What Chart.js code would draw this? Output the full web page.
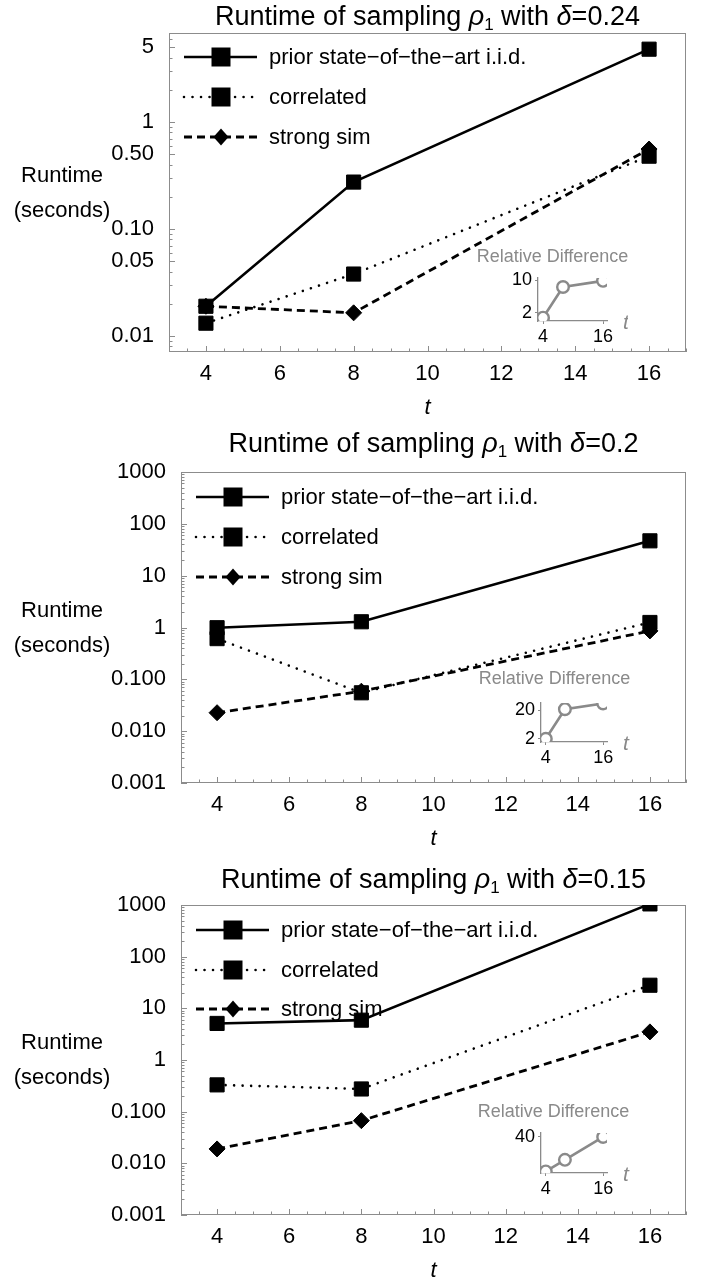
<!DOCTYPE html>
<html lang="en">
<head>
<meta charset="UTF-8">
<title>Runtime of sampling</title>
<script src="https://cdn.jsdelivr.net/npm/chart.js"></script>
<style>
  body { margin: 0; background: #fff; }
  #page { position: relative; width: 712px; height: 1284px; overflow: hidden; background: #fff; }
  canvas { position: absolute; }
</style>
</head>
<body>
<div id="page">
  <canvas id="main1"></canvas>
  <canvas id="main2"></canvas>
  <canvas id="main3"></canvas>
  <canvas id="inset1"></canvas>
  <canvas id="inset2"></canvas>
  <canvas id="inset3"></canvas>
</div>
<script>
// ---- data ----
const tValues = [4, 8, 16];
const seriesNames = ['prior state\u2212of\u2212the\u2212art i.i.d.', 'correlated', 'strong sim'];

// delta = 0.24
const prior1 = [0.019, 0.275, 4.8];
const corr1 = [0.0132, 0.038, 0.48];
const strong1 = [0.019, 0.0165, 0.56];
const relDiff1 = [0.8, 8.3, 9.8];

// delta = 0.2
const prior2 = [0.99, 1.29, 47];
const corr2 = [0.61, 0.055, 1.25];
const strong2 = [0.0227, 0.059, 0.86];
const relDiff2 = [2.0, 20.6, 24.2];

// delta = 0.15
const prior3 = [5.1, 5.9, 1050];
const corr3 = [0.33, 0.275, 28];
const strong3 = [0.019, 0.067, 3.5];
const relDiff3 = [1.8, 14.6, 40];

// tick labels
const xTicks = [4, 6, 8, 10, 12, 14, 16];
const yTicks1 = [0.01, 0.05, 0.1, 0.5, 1, 5];
const yLabels1 = ['0.01', '0.05', '0.10', '0.50', '1', '5'];
const yTicksWide = [0.001, 0.01, 0.1, 1, 10, 100, 1000];
const yLabelsWide = ['0.001', '0.010', '0.100', '1', '10', '100', '1000'];
const insetXTicks = [4, 16];

// ---- layout / style ----
const W = 712;
const FONT = "'Liberation Sans', Arial, Helvetica, sans-serif";
const frameColor = '#8c8c8c';
const insetGray = '#8a8a8a';
Chart.defaults.font.family = FONT;

const seriesStyles = [
  { dash: [], cap: 'butt', width: 2.6, point: 'rect', radius: 10, legendSize: 19 },
  { dash: [0.01, 8.5], cap: 'round', width: 2.6, point: 'rect', radius: 10, legendSize: 19 },
  { dash: [8, 5], cap: 'butt', width: 2.8, point: 'rectRot', radius: 8, legendSize: 15 }
];

const panels = [
  {
    id: 'main1', delta: '0.24', canvasTop: 0, canvasH: 422,
    box: { l: 169, t: 33, r: 686, b: 352 }, titleBase: 25,
    yMin: 0.0071, yMax: 6.8, yMajor: yTicks1, yLabels: yLabels1,
    series: [prior1, corr1, strong1], legendRows: [24, 64, 104],
    inset: { id: 'inset1', axis: { l: 538, t: 278, r: 607, b: 321 }, yMax: 10.5, yTicks: [2, 10], data: relDiff1, textDx: 14.5, textDy: -21 }
  },
  {
    id: 'main2', delta: '0.2', canvasTop: 430, canvasH: 423,
    box: { l: 181, t: 472, r: 686, b: 783 }, titleBase: 452,
    yMin: 0.001, yMax: 1000, yMajor: yTicksWide, yLabels: yLabelsWide,
    series: [prior2, corr2, strong2], legendRows: [25, 65, 105],
    inset: { id: 'inset2', axis: { l: 541, t: 703, r: 607, b: 742 }, yMax: 24.5, yTicks: [2, 20], data: relDiff2, textDx: 13.5, textDy: -24 }
  },
  {
    id: 'main3', delta: '0.15', canvasTop: 860, canvasH: 425,
    box: { l: 181, t: 905, r: 686, b: 1215 }, titleBase: 888,
    yMin: 0.001, yMax: 1000, yMajor: yTicksWide, yLabels: yLabelsWide,
    series: [prior3, corr3, strong3], legendRows: [25, 65, 104],
    inset: { id: 'inset3', axis: { l: 541, t: 1133, r: 607, b: 1173 }, yMax: 44.4, yTicks: [40], data: relDiff3, textDx: 12.5, textDy: -21 }
  }
];

// minor tick helpers
function logTicks(min, max) {
  const out = [];
  for (let e = -4; e <= 4; e++) {
    for (let k = 1; k <= 9; k++) {
      const v = +(k * Math.pow(10, e)).toPrecision(6);
      if (v >= min * 0.999 && v <= max * 1.001) out.push(v);
    }
  }
  return out;
}
function majorIndex(v, list) {
  return list.findIndex(m => Math.abs(m - v) / m < 1e-6);
}
const xAllTicks = [];
for (let v = 3; v <= 17; v += 0.5) xAllTicks.push(v);

function setDash(ctx, st) {
  ctx.setLineDash(st.dash);
  ctx.lineCap = st.cap;
  ctx.lineWidth = st.width;
}

function drawMarker(ctx, st, x, y) {
  const s = st.legendSize;
  ctx.fillStyle = '#000';
  ctx.beginPath();
  if (st.point === 'rect') {
    ctx.rect(x - s / 2, y - s / 2, s, s);
  } else {
    ctx.moveTo(x, y - s / 2 - 1);
    ctx.lineTo(x + s / 2, y);
    ctx.lineTo(x, y + s / 2 + 1);
    ctx.lineTo(x - s / 2, y);
    ctx.closePath();
  }
  ctx.fill();
}

function drawTitle(ctx, cx, base, delta) {
  const big = '27px ' + FONT, ital = 'italic 27px ' + FONT, small = '17px ' + FONT;
  const parts = [
    { t: 'Runtime of sampling ', f: big, dy: 0 },
    { t: '\u03c1', f: ital, dy: 0 },
    { t: '1', f: small, dy: 5 },
    { t: ' with ', f: big, dy: 0 },
    { t: '\u03b4', f: ital, dy: 0 },
    { t: '=' + delta, f: big, dy: 0 }
  ];
  let total = 0;
  parts.forEach(p => { ctx.font = p.f; p.w = ctx.measureText(p.t).width; total += p.w; });
  let x = cx - total / 2;
  ctx.fillStyle = '#000';
  ctx.textAlign = 'left';
  ctx.textBaseline = 'alphabetic';
  parts.forEach(p => { ctx.font = p.f; ctx.fillText(p.t, x, base + p.dy); x += p.w; });
}

function panelPlugin(p) {
  return {
    id: 'panelDecor' + p.id,
    beforeDatasetsDraw(chart) {
      const { ctx, chartArea: a, scales } = chart;
      ctx.save();
      ctx.strokeStyle = frameColor;
      ctx.lineWidth = 1;
      ctx.strokeRect(a.left + 0.5, a.top + 0.5, a.right - a.left - 1, a.bottom - a.top - 1);
      ctx.beginPath();
      scales.y.ticks.forEach(t => {
        const y = Math.round(scales.y.getPixelForValue(t.value)) + 0.5;
        const len = t.label ? 6 : 3.5;
        ctx.moveTo(a.left, y); ctx.lineTo(a.left + len, y);
      });
      scales.x.ticks.forEach(t => {
        const x = Math.round(scales.x.getPixelForValue(t.value)) + 0.5;
        const len = t.label ? 6 : 3.5;
        ctx.moveTo(x, a.bottom); ctx.lineTo(x, a.bottom - len);
      });
      ctx.stroke();

      // legend
      seriesStyles.forEach((st, i) => {
        const y = a.top + p.legendRows[i];
        ctx.strokeStyle = '#000';
        setDash(ctx, st);
        ctx.beginPath();
        ctx.moveTo(a.left + 15, y); ctx.lineTo(a.left + 88, y);
        ctx.stroke();
        ctx.setLineDash([]);
        drawMarker(ctx, st, a.left + 52, y);
        ctx.fillStyle = '#000';
        ctx.font = '22px ' + FONT;
        ctx.textAlign = 'left';
        ctx.textBaseline = 'middle';
        ctx.fillText(seriesNames[i], a.left + 100, y + 1);
      });
      ctx.restore();
    },
    afterDraw(chart) {
      const { ctx, chartArea: a } = chart;
      ctx.save();
      drawTitle(ctx, (a.left + a.right) / 2, p.titleBase - p.canvasTop, p.delta);
      const cy = (a.top + a.bottom) / 2;
      ctx.font = '22px ' + FONT;
      ctx.fillStyle = '#000';
      ctx.textAlign = 'center';
      ctx.textBaseline = 'middle';
      ctx.fillText('Runtime', 62, cy - 17);
      ctx.fillText('(seconds)', 62, cy + 18);
      ctx.restore();
    }
  };
}

function buildMain(p) {
  const canvas = document.getElementById(p.id);
  canvas.width = W;
  canvas.height = p.canvasH;
  canvas.style.left = '0px';
  canvas.style.top = p.canvasTop + 'px';
  const xAxisH = 70;
  const datasets = seriesStyles.map((st, i) => ({
    label: seriesNames[i],
    data: tValues.map((t, j) => ({ x: t, y: p.series[i][j] })),
    borderColor: '#000',
    backgroundColor: '#000',
    borderWidth: st.width,
    borderDash: st.dash,
    borderCapStyle: st.cap,
    pointStyle: st.point,
    pointRadius: st.radius,
    pointBorderWidth: 1,
    pointBackgroundColor: '#000',
    pointBorderColor: '#000',
    tension: 0,
    clip: 0,
    order: 3 - i
  }));
  return new Chart(canvas, {
    type: 'line',
    data: { datasets },
    options: {
      responsive: false,
      animation: false,
      events: [],
      layout: { padding: { top: p.box.t - p.canvasTop, right: W - p.box.r, left: 0, bottom: p.canvasTop + p.canvasH - p.box.b - xAxisH } },
      plugins: { legend: { display: false }, tooltip: { enabled: false } },
      scales: {
        x: {
          type: 'linear', min: 3, max: 17,
          afterFit: s => { s.height = xAxisH; },
          afterBuildTicks: s => { s.ticks = xAllTicks.map(v => ({ value: v })); },
          ticks: {
            autoSkip: false, maxRotation: 0, padding: 1, color: '#000',
            font: { size: 22 },
            callback: v => (xTicks.includes(v) ? String(v) : '')
          },
          grid: { display: false },
          border: { display: false },
          title: { display: true, text: 't', color: '#000', font: { size: 22, style: 'italic' }, padding: { top: 0, bottom: 1 } }
        },
        y: {
          type: 'logarithmic', min: p.yMin, max: p.yMax,
          afterFit: s => { s.width = p.box.l; },
          afterBuildTicks: s => { s.ticks = logTicks(p.yMin, p.yMax).map(v => ({ value: v })); },
          ticks: {
            autoSkip: false, padding: 7, color: '#000',
            font: { size: 22 },
            callback: v => {
              const k = majorIndex(v, p.yMajor);
              return k >= 0 ? p.yLabels[k] : '';
            }
          },
          grid: { display: false },
          border: { display: false }
        }
      }
    },
    plugins: [panelPlugin(p)]
  });
}

function buildInset(p) {
  const ins = p.inset;
  const canvas = document.getElementById(ins.id);
  const padL = 80, padT = 45, cw = 170, xH = 30;
  const cl = ins.axis.l - padL;
  const ct = ins.axis.t - padT;
  const ch = ins.axis.b - ins.axis.t + padT + xH;
  canvas.width = cw;
  canvas.height = ch;
  canvas.style.left = cl + 'px';
  canvas.style.top = ct + 'px';
  const decor = {
    id: 'insetDecor' + ins.id,
    afterDraw(chart) {
      const { ctx, chartArea: a } = chart;
      ctx.save();
      ctx.fillStyle = insetGray;
      ctx.font = '18px ' + FONT;
      ctx.textAlign = 'center';
      ctx.textBaseline = 'middle';
      ctx.fillText('Relative Difference', a.left + ins.textDx, a.top + ins.textDy);
      ctx.font = 'italic 21px ' + FONT;
      ctx.textAlign = 'left';
      ctx.fillText('t', a.right + 16, a.bottom + 2);
      ctx.restore();
    }
  };
  return new Chart(canvas, {
    type: 'line',
    data: {
      datasets: [{
        label: 'Relative Difference',
        data: tValues.map((t, j) => ({ x: t, y: ins.data[j] })),
        borderColor: insetGray,
        borderWidth: 2.6,
        pointStyle: 'circle',
        pointRadius: 5.8,
        pointBorderWidth: 2.4,
        pointBorderColor: insetGray,
        pointBackgroundColor: '#fff',
        tension: 0,
        clip: 0
      }]
    },
    options: {
      responsive: false,
      animation: false,
      events: [],
      layout: { padding: { top: padT, right: cl + cw - ins.axis.r, left: 0, bottom: 0 } },
      plugins: { legend: { display: false }, tooltip: { enabled: false } },
      scales: {
        x: {
          type: 'linear', min: 3, max: 16.8,
          afterFit: s => { s.height = xH; },
          afterBuildTicks: s => { s.ticks = insetXTicks.map(v => ({ value: v })); },
          ticks: { autoSkip: false, maxRotation: 0, padding: 2, color: '#000', font: { size: 18 } },
          grid: { display: true, drawOnChartArea: false, drawTicks: true, tickLength: 3, color: insetGray },
          border: { display: true, color: insetGray, width: 1.3 }
        },
        y: {
          type: 'linear', min: 0, max: ins.yMax,
          afterFit: s => { s.width = padL; },
          afterBuildTicks: s => { s.ticks = ins.yTicks.map(v => ({ value: v })); },
          ticks: { autoSkip: false, padding: 3, color: '#000', font: { size: 18 } },
          grid: { display: true, drawOnChartArea: false, drawTicks: true, tickLength: 3, color: insetGray },
          border: { display: true, color: insetGray, width: 1.3 }
        }
      }
    },
    plugins: [decor]
  });
}

panels.forEach(p => { buildMain(p); buildInset(p); });
</script>
</body>
</html>
